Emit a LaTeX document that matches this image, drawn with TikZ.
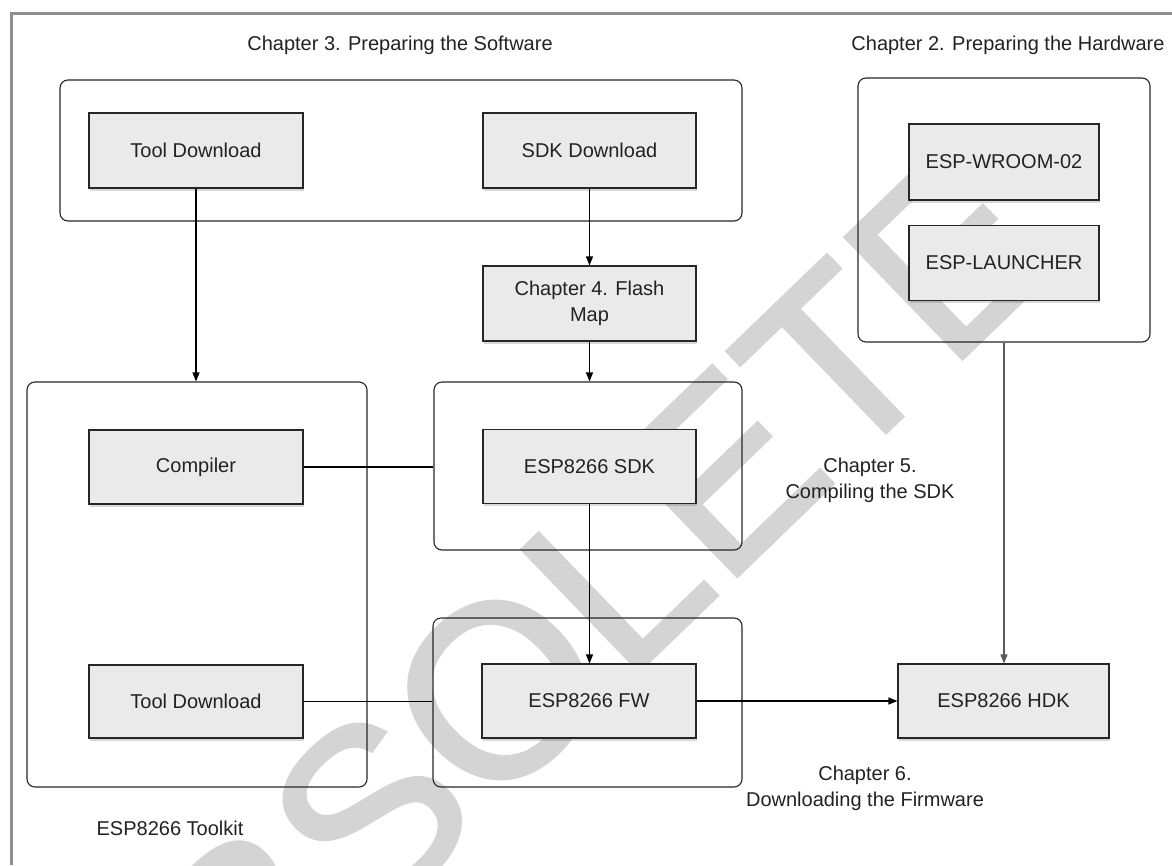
\documentclass[tikz,border=0pt]{standalone}
\usepackage{fontspec}
\setmainfont{Liberation Sans}
\newfontfamily\wmfont[FakeBold=1.5]{Liberation Sans}
\usetikzlibrary{arrows.meta,shadows,calc}
\definecolor{boxfill}{HTML}{EAEAEA}
\definecolor{wmgray}{HTML}{D4D4D4}
\definecolor{framegray}{HTML}{8E8E8E}
\definecolor{txt}{HTML}{222222}
\definecolor{linegray}{HTML}{5A5A5A}
\tikzset{
  box/.style={rectangle, draw=black!85, line width=1.1pt, fill=boxfill, align=center,
    text=txt, inner sep=0pt,
    drop shadow={shadow xshift=1pt, shadow yshift=-2.5pt, fill=black, opacity=0.15}},
  cont/.style={rectangle, draw=black!85, line width=1.1pt, rounded corners=8pt, inner sep=0pt},
  lbl/.style={text=txt, align=center, inner sep=0pt},
  arr/.style={line width=1.1pt, draw=black, -{Triangle[length=9pt,width=7pt]}},
  plain/.style={line width=1.1pt, draw=black},
}
\begin{document}
\begin{tikzpicture}[x=1pt,y=-1pt,font=\fontsize{20}{26}\selectfont]
\useasboundingbox (0,0) rectangle (1172,865);
\fill[white] (0,0) rectangle (1172,865);
% watermark
\node[text=wmgray, rotate=44, font=\wmfont\fontsize{245}{245}\selectfont, inner sep=0pt] (wmk) at (532,657) {OBSOLETE};
% frame
\draw[line width=3pt, framegray] (11.5,865) -- (11.5,13.3) -- (1172,13.3);
% containers
\node[cont, minimum width=682pt, minimum height=141pt] (swc) at (401,150.5) {};
\node[cont, minimum width=292pt, minimum height=264pt] (hwc) at (1004,210) {};
\node[cont, minimum width=340pt, minimum height=405pt] (tkc) at (197,584.5) {};
\node[cont, minimum width=308pt, minimum height=168pt] (sdkc) at (588,466) {};
\node[cont, minimum width=309pt, minimum height=169pt] (fwc) at (587.5,702.5) {};
% boxes
\node[box, minimum width=214pt, minimum height=75pt] (tool1) at (196,150.5) {Tool Download};
\node[box, minimum width=213pt, minimum height=75pt] (sdkdl) at (589.5,150.5) {SDK Download};
\node[box, minimum width=213pt, minimum height=75pt] (flash) at (589.5,303.5) {Chapter 4. Flash\\Map};
\node[box, minimum width=213pt, minimum height=74pt] (sdk) at (589.5,466.5) {ESP8266 SDK};
\node[box, minimum width=214pt, minimum height=74pt] (compiler) at (196,467) {Compiler};
\node[box, minimum width=214pt, minimum height=73pt] (tool2) at (196,701.5) {Tool Download};
\node[box, minimum width=214pt, minimum height=74pt] (fw) at (589,701) {ESP8266 FW};
\node[box, minimum width=211pt, minimum height=74pt] (hdk) at (1003.5,701) {ESP8266 HDK};
\node[box, minimum width=190pt, minimum height=76pt] (wroom) at (1004,162) {ESP-WROOM-02};
\node[box, minimum width=190pt, minimum height=75pt] (launch) at (1004,263) {ESP-LAUNCHER};
% labels
\node[lbl] (ch3) at (400,45) {Chapter 3. Preparing the Software};
\node[lbl] (ch2) at (1008,45) {Chapter 2. Preparing the Hardware};
\node[lbl] (ch5) at (870,480) {Chapter 5.\\Compiling the SDK};
\node[lbl] (ch6) at (865,788) {Chapter 6.\\Downloading the Firmware};
\node[lbl] (tk) at (170,828) {ESP8266 Toolkit};
% connectors
\draw[arr] (tool1.south) -- (tool1.south |- tkc.north);
\draw[arr] (sdkdl.south) -- (flash.north);
\draw[arr] (flash.south) -- (flash.south |- sdkc.north);
\draw[plain] (compiler.east) -- (compiler.east -| sdkc.west);
\draw[plain] (tool2.east) -- (tool2.east -| fwc.west);
\draw[arr] (sdk.south) -- (sdk.south |- fw.north);
\draw[arr] (fw.east) -- (hdk.west);
\draw[arr, draw=linegray] (hwc.south) -- (hwc.south |- hdk.north);
\end{tikzpicture}
\end{document}
